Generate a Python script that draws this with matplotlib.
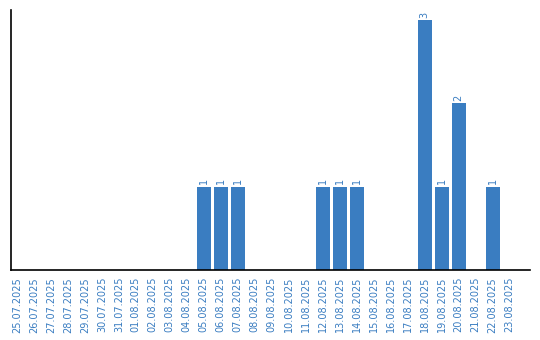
import matplotlib.pyplot as plt

dates = ["25.07.2025", "26.07.2025", "27.07.2025", "28.07.2025", "29.07.2025",
         "30.07.2025", "31.07.2025", "01.08.2025", "02.08.2025", "03.08.2025",
         "04.08.2025", "05.08.2025", "06.08.2025", "07.08.2025", "08.08.2025",
         "09.08.2025", "10.08.2025", "11.08.2025", "12.08.2025", "13.08.2025",
         "14.08.2025", "15.08.2025", "16.08.2025", "17.08.2025", "18.08.2025",
         "19.08.2025", "20.08.2025", "21.08.2025", "22.08.2025", "23.08.2025"]
counts = [0, 0, 0, 0, 0, 0, 0, 0, 0, 0,
          0, 1, 1, 1, 0, 0, 0, 0, 1, 1,
          1, 0, 0, 0, 3, 1, 2, 0, 1, 0]

BLUE = "#3a7dc1"

fig = plt.figure(figsize=(5.4, 3.4), dpi=100)
ax = fig.add_axes([11 / 540, 70 / 340, 519 / 540, 260 / 340])

x = list(range(len(dates)))
bars = ax.bar(x, counts, width=0.82, color=BLUE)
for xi, v in zip(x, counts):
    if v > 0:
        ax.text(xi, v + 0.03, str(v), rotation=90, ha="center", va="bottom",
                fontsize=7, color=BLUE)

ax.set_xlim(-0.35, 30.2)
ax.set_ylim(0, 3.12)
ax.set_xticks(x)
ax.set_xticklabels(dates, rotation=90, fontsize=7, color=BLUE)
ax.tick_params(axis="x", length=0, pad=5)
ax.set_yticks([])
for side in ("top", "right"):
    ax.spines[side].set_visible(False)
ax.spines["left"].set_linewidth(1.2)
ax.spines["bottom"].set_linewidth(1.2)

fig.savefig("out.png", dpi=100)
